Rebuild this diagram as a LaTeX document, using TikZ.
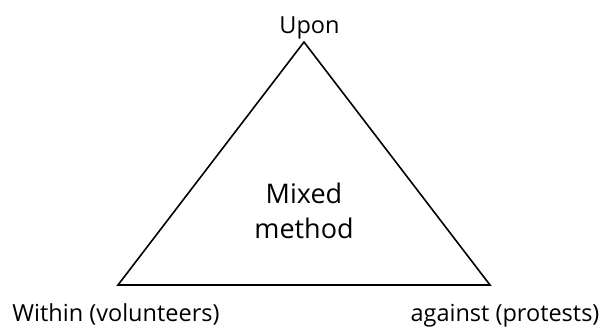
\documentclass[tikz,border=0pt]{standalone}
\usepackage{fontspec}
\setmainfont{Open Sans}
\begin{document}
\begin{tikzpicture}[x=1pt,y=-1pt,
  lbl/.style={font=\fontsize{23.5}{28}\selectfont, inner sep=0pt, anchor=base},
  midlbl/.style={font=\fontsize{27}{35}\selectfont, inner sep=0pt, align=center, anchor=base},
  edge/.style={draw=black, line width=1.6pt, line join=miter}]
\useasboundingbox (0,0) rectangle (603,327);
\coordinate (top) at (304,42);
\coordinate (bl) at (118,285);
\coordinate (br) at (490,285);
\draw[edge] (top) -- (bl) -- (br) -- cycle;
\node[lbl] (upon) at (309.5,33) {Upon};
\node[lbl] (within) at (116,321) {Within (volunteers)};
\node[lbl] (against) at (505,321) {against (protests)};
\node[midlbl] (mix) at (304,203) {Mixed};
\node[midlbl] (meth) at (304,238) {method};
\end{tikzpicture}
\end{document}
